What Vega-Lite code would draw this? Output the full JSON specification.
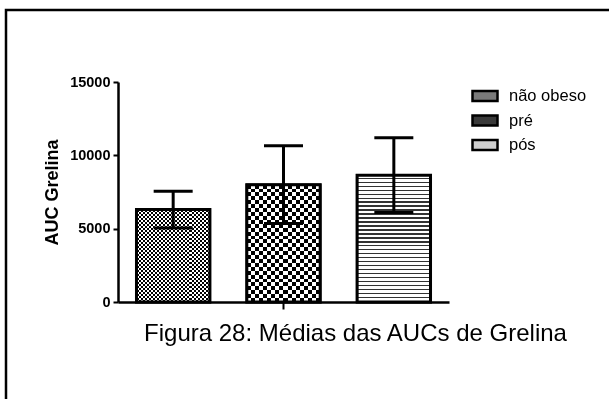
{
"$schema": "https://vega.github.io/schema/vega-lite/v6.json",
"width": 331,
"height": 220,
"autosize": {"type": "none"},
"padding": {"left": 118, "top": 82, "right": 160, "bottom": 97},
"background": "white",
"data": {"values": [
{"grupo": "não obeso", "media": 6300, "lo": 5050, "hi": 7550},
{"grupo": "pré", "media": 8000, "lo": 5350, "hi": 10650},
{"grupo": "pós", "media": 8650, "lo": 6100, "hi": 11200}
]},
"encoding": {
"x": {"field": "grupo", "type": "nominal", "sort": null,
"scale": {"domain": ["não obeso", "pré", "pós"], "paddingInner": 0.335, "paddingOuter": 0.1675},
"axis": {"values": ["pré"], "labels": false, "title": "Figura 28: Médias das AUCs de Grelina", "titleFont": "Liberation Sans", "titleFontSize": 24, "titleFontWeight": "normal", "titleColor": "black", "titleX": 237, "titlePadding": 11, "tickSize": 7, "tickWidth": 2, "tickColor": "black", "domainWidth": 2.5, "domainColor": "black", "grid": false}}
},
"layer": [
{"mark": {"type": "bar", "stroke": "black", "strokeWidth": 2.5},
"encoding": {
"y": {"field": "media", "type": "quantitative", "scale": {"domain": [0, 15000], "nice": false}, "axis": {"values": [0, 5000, 10000, 15000], "format": "d", "title": "AUC Grelina"}},
"fill": {"field": "grupo", "type": "nominal",
"scale": {"domain": ["não obeso", "pré", "pós"], "range": ["#7a7a7a", "#3a3a3a", "#d0d0d0"]},
"legend": {"orient": "none", "legendX": 353, "legendY": 0, "title": null, "padding": 0, "symbolType": "M-1,-0.4H1V0.4H-1Z", "symbolSize": 625, "symbolStrokeColor": "black", "symbolStrokeWidth": 2.5, "symbolOpacity": 1, "labelFontSize": 16.5, "labelFont": "Liberation Sans", "labelColor": "black", "labelOffset": 10, "rowPadding": 0.5}}
}},
{"transform": [{"filter": {"field": "grupo", "equal": "não obeso"}}],
"mark": {"type": "bar", "strokeWidth": 0, "fill": {"gradient": "linear", "x1": 0, "y1": 0, "x2": 0, "y2": 1, "stops": [
{"offset": 0, "color": "#000"}, {"offset": 0.0217, "color": "#000"}, {"offset": 0.0217, "color": "#fff"}, {"offset": 0.0435, "color": "#fff"},
{"offset": 0.0435, "color": "#000"}, {"offset": 0.0652, "color": "#000"}, {"offset": 0.0652, "color": "#fff"}, {"offset": 0.087, "color": "#fff"},
{"offset": 0.087, "color": "#000"}, {"offset": 0.1087, "color": "#000"}, {"offset": 0.1087, "color": "#fff"}, {"offset": 0.1304, "color": "#fff"},
{"offset": 0.1304, "color": "#000"}, {"offset": 0.1522, "color": "#000"}, {"offset": 0.1522, "color": "#fff"}, {"offset": 0.1739, "color": "#fff"},
{"offset": 0.1739, "color": "#000"}, {"offset": 0.1957, "color": "#000"}, {"offset": 0.1957, "color": "#fff"}, {"offset": 0.2174, "color": "#fff"},
{"offset": 0.2174, "color": "#000"}, {"offset": 0.2391, "color": "#000"}, {"offset": 0.2391, "color": "#fff"}, {"offset": 0.2609, "color": "#fff"},
{"offset": 0.2609, "color": "#000"}, {"offset": 0.2826, "color": "#000"}, {"offset": 0.2826, "color": "#fff"}, {"offset": 0.3043, "color": "#fff"},
{"offset": 0.3043, "color": "#000"}, {"offset": 0.3261, "color": "#000"}, {"offset": 0.3261, "color": "#fff"}, {"offset": 0.3478, "color": "#fff"},
{"offset": 0.3478, "color": "#000"}, {"offset": 0.3696, "color": "#000"}, {"offset": 0.3696, "color": "#fff"}, {"offset": 0.3913, "color": "#fff"},
{"offset": 0.3913, "color": "#000"}, {"offset": 0.413, "color": "#000"}, {"offset": 0.413, "color": "#fff"}, {"offset": 0.4348, "color": "#fff"},
{"offset": 0.4348, "color": "#000"}, {"offset": 0.4565, "color": "#000"}, {"offset": 0.4565, "color": "#fff"}, {"offset": 0.4783, "color": "#fff"},
{"offset": 0.4783, "color": "#000"}, {"offset": 0.5, "color": "#000"}, {"offset": 0.5, "color": "#fff"}, {"offset": 0.5217, "color": "#fff"},
{"offset": 0.5217, "color": "#000"}, {"offset": 0.5435, "color": "#000"}, {"offset": 0.5435, "color": "#fff"}, {"offset": 0.5652, "color": "#fff"},
{"offset": 0.5652, "color": "#000"}, {"offset": 0.587, "color": "#000"}, {"offset": 0.587, "color": "#fff"}, {"offset": 0.6087, "color": "#fff"},
{"offset": 0.6087, "color": "#000"}, {"offset": 0.6304, "color": "#000"}, {"offset": 0.6304, "color": "#fff"}, {"offset": 0.6522, "color": "#fff"},
{"offset": 0.6522, "color": "#000"}, {"offset": 0.6739, "color": "#000"}, {"offset": 0.6739, "color": "#fff"}, {"offset": 0.6957, "color": "#fff"},
{"offset": 0.6957, "color": "#000"}, {"offset": 0.7174, "color": "#000"}, {"offset": 0.7174, "color": "#fff"}, {"offset": 0.7391, "color": "#fff"},
{"offset": 0.7391, "color": "#000"}, {"offset": 0.7609, "color": "#000"}, {"offset": 0.7609, "color": "#fff"}, {"offset": 0.7826, "color": "#fff"},
{"offset": 0.7826, "color": "#000"}, {"offset": 0.8043, "color": "#000"}, {"offset": 0.8043, "color": "#fff"}, {"offset": 0.8261, "color": "#fff"},
{"offset": 0.8261, "color": "#000"}, {"offset": 0.8478, "color": "#000"}, {"offset": 0.8478, "color": "#fff"}, {"offset": 0.8696, "color": "#fff"},
{"offset": 0.8696, "color": "#000"}, {"offset": 0.8913, "color": "#000"}, {"offset": 0.8913, "color": "#fff"}, {"offset": 0.913, "color": "#fff"},
{"offset": 0.913, "color": "#000"}, {"offset": 0.9348, "color": "#000"}, {"offset": 0.9348, "color": "#fff"}, {"offset": 0.9565, "color": "#fff"},
{"offset": 0.9565, "color": "#000"}, {"offset": 0.9783, "color": "#000"}, {"offset": 0.9783, "color": "#fff"}, {"offset": 1, "color": "#fff"}
]}},
"encoding": {"y": {"field": "media", "type": "quantitative", "scale": {"domain": [0, 15000], "nice": false}, "axis": {"values": [0, 5000, 10000, 15000], "format": "d", "title": "AUC Grelina"}}}},
{"transform": [{"filter": {"field": "grupo", "equal": "não obeso"}}],
"mark": {"type": "bar", "blend": "difference", "strokeWidth": 0, "fill": {"gradient": "linear", "x1": 0, "y1": 0, "x2": 1, "y2": 0, "stops": [
{"offset": 0, "color": "#000"}, {"offset": 0.0278, "color": "#000"}, {"offset": 0.0278, "color": "#fff"}, {"offset": 0.0556, "color": "#fff"},
{"offset": 0.0556, "color": "#000"}, {"offset": 0.0833, "color": "#000"}, {"offset": 0.0833, "color": "#fff"}, {"offset": 0.1111, "color": "#fff"},
{"offset": 0.1111, "color": "#000"}, {"offset": 0.1389, "color": "#000"}, {"offset": 0.1389, "color": "#fff"}, {"offset": 0.1667, "color": "#fff"},
{"offset": 0.1667, "color": "#000"}, {"offset": 0.1944, "color": "#000"}, {"offset": 0.1944, "color": "#fff"}, {"offset": 0.2222, "color": "#fff"},
{"offset": 0.2222, "color": "#000"}, {"offset": 0.25, "color": "#000"}, {"offset": 0.25, "color": "#fff"}, {"offset": 0.2778, "color": "#fff"},
{"offset": 0.2778, "color": "#000"}, {"offset": 0.3056, "color": "#000"}, {"offset": 0.3056, "color": "#fff"}, {"offset": 0.3333, "color": "#fff"},
{"offset": 0.3333, "color": "#000"}, {"offset": 0.3611, "color": "#000"}, {"offset": 0.3611, "color": "#fff"}, {"offset": 0.3889, "color": "#fff"},
{"offset": 0.3889, "color": "#000"}, {"offset": 0.4167, "color": "#000"}, {"offset": 0.4167, "color": "#fff"}, {"offset": 0.4444, "color": "#fff"},
{"offset": 0.4444, "color": "#000"}, {"offset": 0.4722, "color": "#000"}, {"offset": 0.4722, "color": "#fff"}, {"offset": 0.5, "color": "#fff"},
{"offset": 0.5, "color": "#000"}, {"offset": 0.5278, "color": "#000"}, {"offset": 0.5278, "color": "#fff"}, {"offset": 0.5556, "color": "#fff"},
{"offset": 0.5556, "color": "#000"}, {"offset": 0.5833, "color": "#000"}, {"offset": 0.5833, "color": "#fff"}, {"offset": 0.6111, "color": "#fff"},
{"offset": 0.6111, "color": "#000"}, {"offset": 0.6389, "color": "#000"}, {"offset": 0.6389, "color": "#fff"}, {"offset": 0.6667, "color": "#fff"},
{"offset": 0.6667, "color": "#000"}, {"offset": 0.6944, "color": "#000"}, {"offset": 0.6944, "color": "#fff"}, {"offset": 0.7222, "color": "#fff"},
{"offset": 0.7222, "color": "#000"}, {"offset": 0.75, "color": "#000"}, {"offset": 0.75, "color": "#fff"}, {"offset": 0.7778, "color": "#fff"},
{"offset": 0.7778, "color": "#000"}, {"offset": 0.8056, "color": "#000"}, {"offset": 0.8056, "color": "#fff"}, {"offset": 0.8333, "color": "#fff"},
{"offset": 0.8333, "color": "#000"}, {"offset": 0.8611, "color": "#000"}, {"offset": 0.8611, "color": "#fff"}, {"offset": 0.8889, "color": "#fff"},
{"offset": 0.8889, "color": "#000"}, {"offset": 0.9167, "color": "#000"}, {"offset": 0.9167, "color": "#fff"}, {"offset": 0.9444, "color": "#fff"},
{"offset": 0.9444, "color": "#000"}, {"offset": 0.9722, "color": "#000"}, {"offset": 0.9722, "color": "#fff"}, {"offset": 1, "color": "#fff"}
]}},
"encoding": {"y": {"field": "media", "type": "quantitative", "scale": {"domain": [0, 15000], "nice": false}, "axis": {"values": [0, 5000, 10000, 15000], "format": "d", "title": "AUC Grelina"}}}},
{"transform": [{"filter": {"field": "grupo", "equal": "pré"}}],
"mark": {"type": "bar", "strokeWidth": 0, "fill": {"gradient": "linear", "x1": 0, "y1": 0, "x2": 0, "y2": 1, "stops": [
{"offset": 0, "color": "#000"}, {"offset": 0.0333, "color": "#000"}, {"offset": 0.0333, "color": "#fff"}, {"offset": 0.0667, "color": "#fff"},
{"offset": 0.0667, "color": "#000"}, {"offset": 0.1, "color": "#000"}, {"offset": 0.1, "color": "#fff"}, {"offset": 0.1333, "color": "#fff"},
{"offset": 0.1333, "color": "#000"}, {"offset": 0.1667, "color": "#000"}, {"offset": 0.1667, "color": "#fff"}, {"offset": 0.2, "color": "#fff"},
{"offset": 0.2, "color": "#000"}, {"offset": 0.2333, "color": "#000"}, {"offset": 0.2333, "color": "#fff"}, {"offset": 0.2667, "color": "#fff"},
{"offset": 0.2667, "color": "#000"}, {"offset": 0.3, "color": "#000"}, {"offset": 0.3, "color": "#fff"}, {"offset": 0.3333, "color": "#fff"},
{"offset": 0.3333, "color": "#000"}, {"offset": 0.3667, "color": "#000"}, {"offset": 0.3667, "color": "#fff"}, {"offset": 0.4, "color": "#fff"},
{"offset": 0.4, "color": "#000"}, {"offset": 0.4333, "color": "#000"}, {"offset": 0.4333, "color": "#fff"}, {"offset": 0.4667, "color": "#fff"},
{"offset": 0.4667, "color": "#000"}, {"offset": 0.5, "color": "#000"}, {"offset": 0.5, "color": "#fff"}, {"offset": 0.5333, "color": "#fff"},
{"offset": 0.5333, "color": "#000"}, {"offset": 0.5667, "color": "#000"}, {"offset": 0.5667, "color": "#fff"}, {"offset": 0.6, "color": "#fff"},
{"offset": 0.6, "color": "#000"}, {"offset": 0.6333, "color": "#000"}, {"offset": 0.6333, "color": "#fff"}, {"offset": 0.6667, "color": "#fff"},
{"offset": 0.6667, "color": "#000"}, {"offset": 0.7, "color": "#000"}, {"offset": 0.7, "color": "#fff"}, {"offset": 0.7333, "color": "#fff"},
{"offset": 0.7333, "color": "#000"}, {"offset": 0.7667, "color": "#000"}, {"offset": 0.7667, "color": "#fff"}, {"offset": 0.8, "color": "#fff"},
{"offset": 0.8, "color": "#000"}, {"offset": 0.8333, "color": "#000"}, {"offset": 0.8333, "color": "#fff"}, {"offset": 0.8667, "color": "#fff"},
{"offset": 0.8667, "color": "#000"}, {"offset": 0.9, "color": "#000"}, {"offset": 0.9, "color": "#fff"}, {"offset": 0.9333, "color": "#fff"},
{"offset": 0.9333, "color": "#000"}, {"offset": 0.9667, "color": "#000"}, {"offset": 0.9667, "color": "#fff"}, {"offset": 1, "color": "#fff"}
]}},
"encoding": {"y": {"field": "media", "type": "quantitative", "scale": {"domain": [0, 15000], "nice": false}, "axis": {"values": [0, 5000, 10000, 15000], "format": "d", "title": "AUC Grelina"}}}},
{"transform": [{"filter": {"field": "grupo", "equal": "pré"}}],
"mark": {"type": "bar", "blend": "difference", "strokeWidth": 0, "fill": {"gradient": "linear", "x1": 0, "y1": 0, "x2": 1, "y2": 0, "stops": [
{"offset": 0, "color": "#000"}, {"offset": 0.0556, "color": "#000"}, {"offset": 0.0556, "color": "#fff"}, {"offset": 0.1111, "color": "#fff"},
{"offset": 0.1111, "color": "#000"}, {"offset": 0.1667, "color": "#000"}, {"offset": 0.1667, "color": "#fff"}, {"offset": 0.2222, "color": "#fff"},
{"offset": 0.2222, "color": "#000"}, {"offset": 0.2778, "color": "#000"}, {"offset": 0.2778, "color": "#fff"}, {"offset": 0.3333, "color": "#fff"},
{"offset": 0.3333, "color": "#000"}, {"offset": 0.3889, "color": "#000"}, {"offset": 0.3889, "color": "#fff"}, {"offset": 0.4444, "color": "#fff"},
{"offset": 0.4444, "color": "#000"}, {"offset": 0.5, "color": "#000"}, {"offset": 0.5, "color": "#fff"}, {"offset": 0.5556, "color": "#fff"},
{"offset": 0.5556, "color": "#000"}, {"offset": 0.6111, "color": "#000"}, {"offset": 0.6111, "color": "#fff"}, {"offset": 0.6667, "color": "#fff"},
{"offset": 0.6667, "color": "#000"}, {"offset": 0.7222, "color": "#000"}, {"offset": 0.7222, "color": "#fff"}, {"offset": 0.7778, "color": "#fff"},
{"offset": 0.7778, "color": "#000"}, {"offset": 0.8333, "color": "#000"}, {"offset": 0.8333, "color": "#fff"}, {"offset": 0.8889, "color": "#fff"},
{"offset": 0.8889, "color": "#000"}, {"offset": 0.9444, "color": "#000"}, {"offset": 0.9444, "color": "#fff"}, {"offset": 1, "color": "#fff"}
]}},
"encoding": {"y": {"field": "media", "type": "quantitative", "scale": {"domain": [0, 15000], "nice": false}, "axis": {"values": [0, 5000, 10000, 15000], "format": "d", "title": "AUC Grelina"}}}},
{"transform": [{"filter": {"field": "grupo", "equal": "pós"}}],
"mark": {"type": "bar", "strokeWidth": 0, "fill": {"gradient": "linear", "x1": 0, "y1": 0, "x2": 0, "y2": 1, "stops": [
{"offset": 0, "color": "#fff"}, {"offset": 0.0203, "color": "#fff"}, {"offset": 0.0203, "color": "#333"}, {"offset": 0.03125, "color": "#333"},
{"offset": 0.03125, "color": "#fff"}, {"offset": 0.0516, "color": "#fff"}, {"offset": 0.0516, "color": "#333"}, {"offset": 0.0625, "color": "#333"},
{"offset": 0.0625, "color": "#fff"}, {"offset": 0.0828, "color": "#fff"}, {"offset": 0.0828, "color": "#333"}, {"offset": 0.09375, "color": "#333"},
{"offset": 0.09375, "color": "#fff"}, {"offset": 0.1141, "color": "#fff"}, {"offset": 0.1141, "color": "#333"}, {"offset": 0.125, "color": "#333"},
{"offset": 0.125, "color": "#fff"}, {"offset": 0.1453, "color": "#fff"}, {"offset": 0.1453, "color": "#333"}, {"offset": 0.15625, "color": "#333"},
{"offset": 0.15625, "color": "#fff"}, {"offset": 0.1766, "color": "#fff"}, {"offset": 0.1766, "color": "#333"}, {"offset": 0.1875, "color": "#333"},
{"offset": 0.1875, "color": "#fff"}, {"offset": 0.2078, "color": "#fff"}, {"offset": 0.2078, "color": "#333"}, {"offset": 0.21875, "color": "#333"},
{"offset": 0.21875, "color": "#fff"}, {"offset": 0.2391, "color": "#fff"}, {"offset": 0.2391, "color": "#333"}, {"offset": 0.25, "color": "#333"},
{"offset": 0.25, "color": "#fff"}, {"offset": 0.2703, "color": "#fff"}, {"offset": 0.2703, "color": "#333"}, {"offset": 0.28125, "color": "#333"},
{"offset": 0.28125, "color": "#fff"}, {"offset": 0.3016, "color": "#fff"}, {"offset": 0.3016, "color": "#333"}, {"offset": 0.3125, "color": "#333"},
{"offset": 0.3125, "color": "#fff"}, {"offset": 0.3328, "color": "#fff"}, {"offset": 0.3328, "color": "#333"}, {"offset": 0.34375, "color": "#333"},
{"offset": 0.34375, "color": "#fff"}, {"offset": 0.3641, "color": "#fff"}, {"offset": 0.3641, "color": "#333"}, {"offset": 0.375, "color": "#333"},
{"offset": 0.375, "color": "#fff"}, {"offset": 0.3953, "color": "#fff"}, {"offset": 0.3953, "color": "#333"}, {"offset": 0.40625, "color": "#333"},
{"offset": 0.40625, "color": "#fff"}, {"offset": 0.4266, "color": "#fff"}, {"offset": 0.4266, "color": "#333"}, {"offset": 0.4375, "color": "#333"},
{"offset": 0.4375, "color": "#fff"}, {"offset": 0.4578, "color": "#fff"}, {"offset": 0.4578, "color": "#333"}, {"offset": 0.46875, "color": "#333"},
{"offset": 0.46875, "color": "#fff"}, {"offset": 0.4891, "color": "#fff"}, {"offset": 0.4891, "color": "#333"}, {"offset": 0.5, "color": "#333"},
{"offset": 0.5, "color": "#fff"}, {"offset": 0.5203, "color": "#fff"}, {"offset": 0.5203, "color": "#333"}, {"offset": 0.53125, "color": "#333"},
{"offset": 0.53125, "color": "#fff"}, {"offset": 0.5516, "color": "#fff"}, {"offset": 0.5516, "color": "#333"}, {"offset": 0.5625, "color": "#333"},
{"offset": 0.5625, "color": "#fff"}, {"offset": 0.5828, "color": "#fff"}, {"offset": 0.5828, "color": "#333"}, {"offset": 0.59375, "color": "#333"},
{"offset": 0.59375, "color": "#fff"}, {"offset": 0.6141, "color": "#fff"}, {"offset": 0.6141, "color": "#333"}, {"offset": 0.625, "color": "#333"},
{"offset": 0.625, "color": "#fff"}, {"offset": 0.6453, "color": "#fff"}, {"offset": 0.6453, "color": "#333"}, {"offset": 0.65625, "color": "#333"},
{"offset": 0.65625, "color": "#fff"}, {"offset": 0.6766, "color": "#fff"}, {"offset": 0.6766, "color": "#333"}, {"offset": 0.6875, "color": "#333"},
{"offset": 0.6875, "color": "#fff"}, {"offset": 0.7078, "color": "#fff"}, {"offset": 0.7078, "color": "#333"}, {"offset": 0.71875, "color": "#333"},
{"offset": 0.71875, "color": "#fff"}, {"offset": 0.7391, "color": "#fff"}, {"offset": 0.7391, "color": "#333"}, {"offset": 0.75, "color": "#333"},
{"offset": 0.75, "color": "#fff"}, {"offset": 0.7703, "color": "#fff"}, {"offset": 0.7703, "color": "#333"}, {"offset": 0.78125, "color": "#333"},
{"offset": 0.78125, "color": "#fff"}, {"offset": 0.8016, "color": "#fff"}, {"offset": 0.8016, "color": "#333"}, {"offset": 0.8125, "color": "#333"},
{"offset": 0.8125, "color": "#fff"}, {"offset": 0.8328, "color": "#fff"}, {"offset": 0.8328, "color": "#333"}, {"offset": 0.84375, "color": "#333"},
{"offset": 0.84375, "color": "#fff"}, {"offset": 0.8641, "color": "#fff"}, {"offset": 0.8641, "color": "#333"}, {"offset": 0.875, "color": "#333"},
{"offset": 0.875, "color": "#fff"}, {"offset": 0.8953, "color": "#fff"}, {"offset": 0.8953, "color": "#333"}, {"offset": 0.90625, "color": "#333"},
{"offset": 0.90625, "color": "#fff"}, {"offset": 0.9266, "color": "#fff"}, {"offset": 0.9266, "color": "#333"}, {"offset": 0.9375, "color": "#333"},
{"offset": 0.9375, "color": "#fff"}, {"offset": 0.9578, "color": "#fff"}, {"offset": 0.9578, "color": "#333"}, {"offset": 0.96875, "color": "#333"},
{"offset": 0.96875, "color": "#fff"}, {"offset": 0.9891, "color": "#fff"}, {"offset": 0.9891, "color": "#333"}, {"offset": 1, "color": "#333"}
]}},
"encoding": {"y": {"field": "media", "type": "quantitative", "scale": {"domain": [0, 15000], "nice": false}, "axis": {"values": [0, 5000, 10000, 15000], "format": "d", "title": "AUC Grelina"}}}},
{"mark": {"type": "bar", "filled": false, "color": "black", "stroke": "black", "strokeWidth": 3},
"encoding": {"y": {"field": "media", "type": "quantitative", "scale": {"domain": [0, 15000], "nice": false}, "axis": {"values": [0, 5000, 10000, 15000], "format": "d", "title": "AUC Grelina"}}}},
{"mark": {"type": "rule", "color": "black", "strokeWidth": 3},
"encoding": {
"y": {"field": "lo", "type": "quantitative", "scale": {"domain": [0, 15000], "nice": false}, "axis": {"values": [0, 5000, 10000, 15000], "format": "d", "title": "AUC Grelina"}},
"y2": {"field": "hi"},
"opacity": {"datum": "moldura", "type": "nominal", "scale": {"range": [1]},
"legend": {"orient": "none", "legendX": -112, "legendY": -72, "padding": 420, "strokeColor": "black", "title": null, "symbolOpacity": 0, "symbolStrokeWidth": 0, "labelOpacity": 0, "labelExpr": "''"}}
}},
{"mark": {"type": "tick", "color": "black", "thickness": 3, "size": 39, "opacity": 1},
"encoding": {"y": {"field": "hi", "type": "quantitative", "scale": {"domain": [0, 15000], "nice": false}, "axis": {"values": [0, 5000, 10000, 15000], "format": "d", "title": "AUC Grelina"}}}},
{"mark": {"type": "tick", "color": "black", "thickness": 3, "size": 39, "opacity": 1},
"encoding": {"y": {"field": "lo", "type": "quantitative", "scale": {"domain": [0, 15000], "nice": false}, "axis": {"values": [0, 5000, 10000, 15000], "format": "d", "title": "AUC Grelina"}}}}
],
"config": {
"view": {"stroke": null},
"font": "Liberation Sans",
"legend": {"strokeWidth": 2.5},
"axisY": {"titleFontSize": 18, "titleFontWeight": "bold", "titleFont": "Liberation Sans", "titleColor": "black", "titlePadding": 8, "labelFontSize": 14.5, "labelFontWeight": "bold", "labelFont": "Liberation Sans", "labelColor": "black", "labelPadding": 3, "labelFlush": false, "tickSize": 5, "tickWidth": 2, "tickColor": "black", "domainWidth": 2.5, "domainColor": "black", "grid": false}
}
}
